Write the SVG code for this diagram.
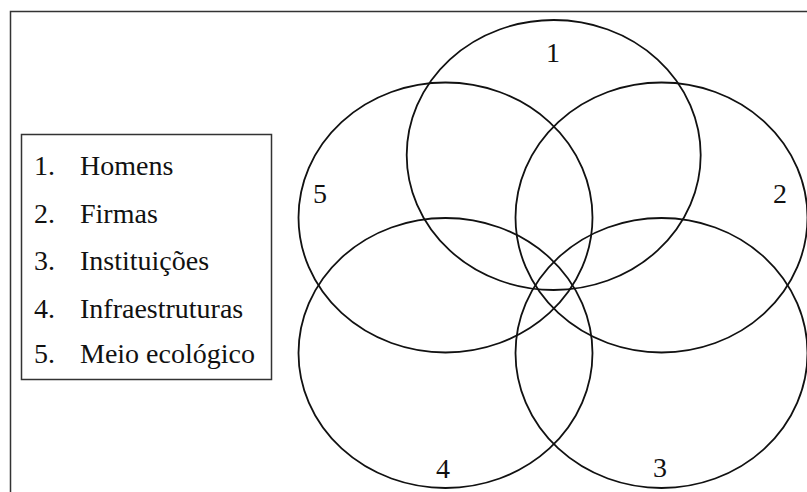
<svg xmlns="http://www.w3.org/2000/svg" width="807" height="492" viewBox="0 0 807 492">
  <style>
    .frame { fill: none; stroke: #333; stroke-width: 1.5; }
    .set { fill: none; stroke: #111; stroke-width: 1.8; }
    .lbl { font-family: "Liberation Serif", "Times New Roman", serif; font-size: 28px; fill: #111; }
  </style>
  <rect width="807" height="492" fill="#fff"/>
  <!-- outer frame, open to the right and bottom -->
  <path class="frame" d="M10.5,492 V11.5 H807"/>

  <!-- legend -->
  <g id="legend">
    <rect x="21.5" y="134.5" width="250" height="245" class="frame" stroke="#444"/>
    <g class="lbl">
      <text x="34" y="175">1.</text><text x="80" y="175">Homens</text>
      <text x="34" y="222.5">2.</text><text x="80" y="222.5">Firmas</text>
      <text x="34" y="269.5">3.</text><text x="80" y="269.5">Instituições</text>
      <text x="34" y="317.5">4.</text><text x="80" y="317.5">Infraestruturas</text>
      <text x="34" y="363">5.</text><text x="80" y="363">Meio ecológico</text>
    </g>
  </g>

  <!-- five overlapping sets -->
  <g id="set1"><ellipse class="set" cx="553.7" cy="155" rx="147" ry="135"/><text class="lbl" x="553" y="62" text-anchor="middle">1</text></g>
  <g id="set2"><ellipse class="set" cx="661.5" cy="217.5" rx="146" ry="135"/><text class="lbl" x="780" y="203" text-anchor="middle">2</text></g>
  <g id="set3"><ellipse class="set" cx="661.5" cy="353" rx="146" ry="135"/><text class="lbl" x="660" y="477" text-anchor="middle">3</text></g>
  <g id="set4"><ellipse class="set" cx="445.5" cy="353" rx="147" ry="135"/><text class="lbl" x="443" y="478" text-anchor="middle">4</text></g>
  <g id="set5"><ellipse class="set" cx="445.5" cy="217.5" rx="147" ry="135"/><text class="lbl" x="320" y="203" text-anchor="middle">5</text></g>
</svg>
